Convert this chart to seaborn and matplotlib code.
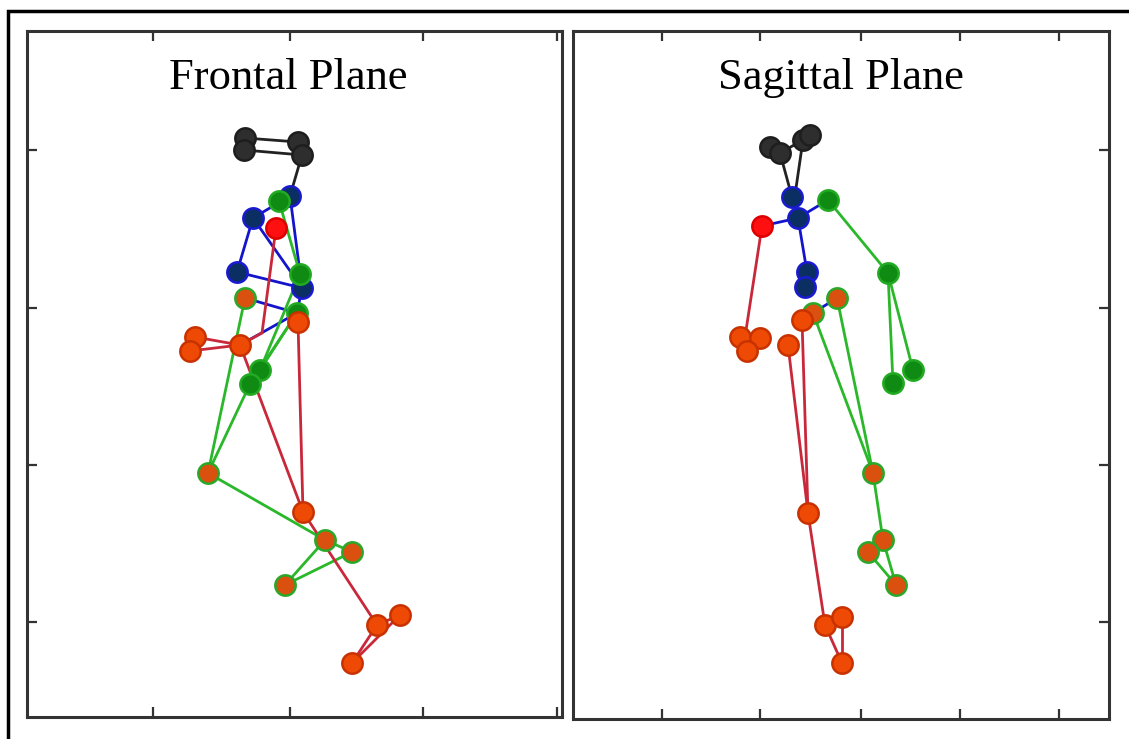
import pandas as pd
import numpy as np
import matplotlib
matplotlib.use("Agg")
import matplotlib.pyplot as plt
import matplotlib.patches as patches
import seaborn as sns

sns.set_style("white")

# Joint positions (image-like units, y grows downwards)
# ---- Frontal plane ----
fr_black = [(245, 138), (244, 150), (298, 142), (302, 155)]
fr_blue = [(290, 196), (253, 218), (237, 272), (302, 288)]
fr_green = [(279, 201), (300, 274), (297, 313), (260, 370), (250, 384)]
fr_mix = [(245, 298), (208, 473), (325, 540), (352, 552), (285, 585)]
fr_red = [(276, 228)]
fr_orange = [(195, 337), (190, 351), (240, 345), (298, 322), (303, 512),
             (377, 625), (400, 615), (352, 663)]

fr_segments = {
    "black": [((245, 138), (298, 142)), ((244, 150), (302, 155)),
              ((245, 138), (244, 150)), ((298, 142), (302, 155)),
              ((302, 155), (290, 196))],
    "blue": [((290, 196), (253, 218)), ((253, 218), (237, 272)),
             ((237, 272), (302, 288)), ((253, 218), (302, 288)),
             ((290, 196), (302, 288)), ((245, 298), (297, 313)),
             ((297, 313), (240, 345)), ((302, 288), (297, 313))],
    "green": [((279, 201), (300, 274)), ((300, 274), (260, 370)),
              ((297, 313), (250, 384)), ((297, 313), (260, 370)),
              ((245, 298), (208, 473)), ((250, 384), (208, 473)),
              ((208, 473), (325, 540)), ((325, 540), (285, 585)),
              ((285, 585), (352, 552)), ((325, 540), (352, 552))],
    "red": [((276, 228), (262, 333)), ((262, 333), (240, 345)),
            ((195, 337), (240, 345)), ((190, 351), (240, 345)),
            ((195, 337), (190, 351)), ((240, 345), (303, 512)),
            ((298, 322), (303, 512)), ((303, 512), (377, 625)),
            ((377, 625), (400, 615)), ((377, 625), (352, 663)),
            ((400, 615), (352, 663))],
}

# ---- Sagittal plane ----
sg_black = [(770, 147), (780, 153), (803, 140), (810, 135)]
sg_blue = [(792, 197), (798, 218), (807, 272), (805, 287)]
sg_green = [(828, 200), (888, 273), (893, 383), (913, 370)]
sg_mix = [(813, 313), (837, 298), (873, 473), (883, 540), (868, 552), (896, 585)]
sg_red = [(762, 226)]
sg_orange = [(740, 337), (760, 338), (747, 351), (802, 320), (788, 345),
             (808, 513), (825, 625), (842, 617), (842, 663)]

sg_segments = {
    "black": [((770, 147), (780, 153)), ((780, 153), (803, 140)),
              ((803, 140), (810, 135)), ((780, 153), (792, 197)),
              ((803, 140), (795, 195))],
    "blue": [((792, 197), (798, 218)), ((798, 218), (807, 272)),
             ((807, 272), (805, 287)), ((762, 226), (798, 218)),
             ((828, 200), (798, 218)), ((813, 313), (837, 298))],
    "green": [((828, 200), (888, 273)), ((888, 273), (893, 383)),
              ((888, 273), (913, 370)), ((813, 313), (873, 473)),
              ((837, 298), (873, 473)), ((873, 473), (883, 540)),
              ((883, 540), (896, 585)), ((868, 552), (896, 585)),
              ((868, 552), (883, 540))],
    "red": [((762, 226), (745, 337)), ((740, 337), (760, 338)),
            ((760, 338), (747, 351)), ((740, 337), (747, 351)),
            ((788, 345), (808, 513)), ((802, 320), (808, 513)),
            ((808, 513), (825, 625)), ((825, 625), (842, 663)),
            ((842, 617), (842, 663)), ((825, 625), (842, 617)),
            ((802, 320), (813, 313))],
}

fr_xticks = [153, 290, 423, 557]
sg_xticks = [662, 760, 861, 960, 1059]
yticks = [150, 308, 465, 622]

line_colors = {"black": "#222222", "blue": "#1414cc",
               "green": "#2ab82a", "red": "#c8283a"}
marker_style = {
    "black": ("#2e2e2e", "#1e1e1e"),
    "blue": ("#0b2f63", "#1a1ad0"),
    "green": ("#0f8a12", "#22aa22"),
    "mix": ("#d9500f", "#2aa82a"),
    "red": ("#ff1010", "#dd0000"),
    "orange": ("#ee4a05", "#c83200"),
}


def segments_frame(segments):
    rows = []
    k = 0
    for kind, segs in segments.items():
        for (x1, y1), (x2, y2) in segs:
            rows.append({"x": x1, "y": y1, "seg": k, "kind": kind})
            rows.append({"x": x2, "y": y2, "seg": k, "kind": kind})
            k += 1
    return pd.DataFrame(rows)


def draw_panel(ax, segments, points, title, title_x=0.5):
    df_lines = segments_frame(segments)
    sns.lineplot(data=df_lines, x="x", y="y", units="seg", hue="kind",
                 palette=line_colors, estimator=None, sort=False,
                 legend=False, lw=2.0, ax=ax, zorder=2)
    for kind, pts in points.items():
        df_pts = pd.DataFrame(pts, columns=["x", "y"])
        face, edge = marker_style[kind]
        sns.scatterplot(data=df_pts, x="x", y="y", color=face,
                        edgecolor=edge, linewidth=1.8, s=215, ax=ax,
                        zorder=3, legend=False)
    ax.text(title_x, 0.932, title, transform=ax.transAxes, ha="center",
            va="center", fontsize=32, color="black",
            family="Liberation Serif")
    ax.set_xlabel("")
    ax.set_ylabel("")
    for sp in ax.spines.values():
        sp.set_color("#333333")
        sp.set_linewidth(2.2)


fig = plt.figure(figsize=(11.29, 7.39), dpi=100)
ax1 = fig.add_axes([27 / 1129, 22 / 739, 535 / 1129, 686 / 739])
ax2 = fig.add_axes([573 / 1129, 20 / 739, 536 / 1129, 688 / 739])

draw_panel(ax1, fr_segments,
           {"black": fr_black, "blue": fr_blue, "green": fr_green,
            "mix": fr_mix, "red": fr_red, "orange": fr_orange},
           "Frontal Plane", title_x=0.488)
ax1.set_xlim(27, 562)
ax1.set_ylim(717, 31)
ax1.set_xticks(fr_xticks)
ax1.set_yticks(yticks)
ax1.tick_params(direction="in", length=7, width=1.6, color="#333333",
                top=True, bottom=True, left=True, right=False,
                labelbottom=False, labelleft=False)

draw_panel(ax2, sg_segments,
           {"black": sg_black, "blue": sg_blue, "green": sg_green,
            "mix": sg_mix, "red": sg_red, "orange": sg_orange},
           "Sagittal Plane")
ax2.set_xlim(573, 1109)
ax2.set_ylim(719, 31)
ax2.set_xticks(sg_xticks)
ax2.set_yticks(yticks)
ax2.tick_params(direction="in", length=7, width=1.6, color="#333333",
                top=True, bottom=True, left=False, right=True,
                labelbottom=False, labelleft=False, labelright=False)

# outer frame of the figure (only left and top edges are visible)
frame = patches.Rectangle((8 / 1129, -0.1), 1.2, (739 - 11) / 739 + 0.1,
                          transform=fig.transFigure, fill=False,
                          edgecolor="black", linewidth=2.5)
fig.add_artist(frame)

fig.savefig("out.png", dpi=100)
